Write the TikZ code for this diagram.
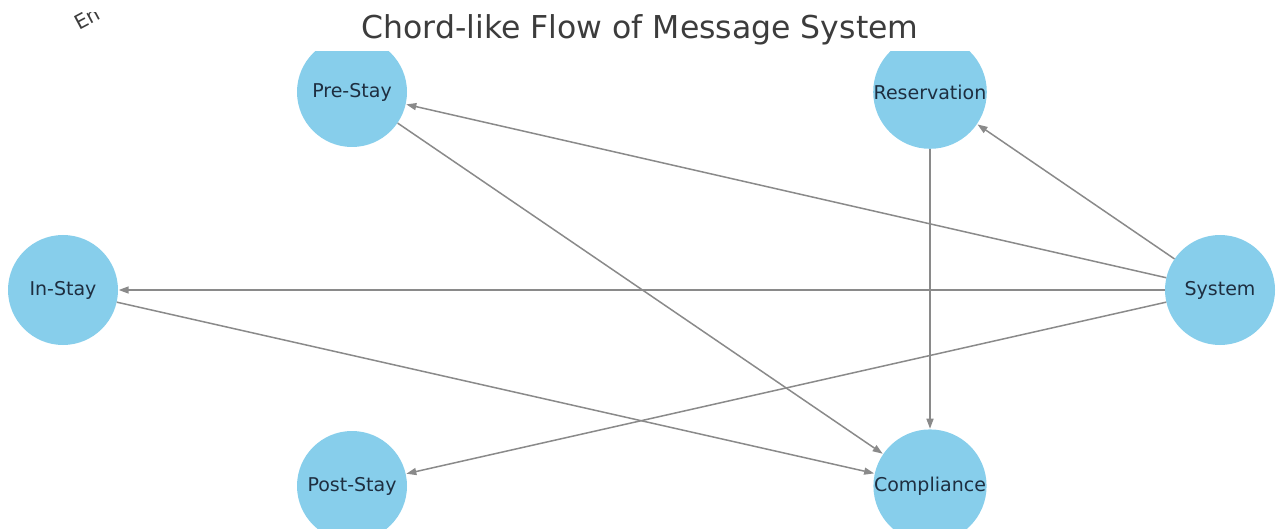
\documentclass[tikz,border=0pt]{standalone}
\usepackage{fontspec}
\setmainfont{DejaVu Sans}
\usetikzlibrary{arrows.meta}
\definecolor{nodefill}{HTML}{87CEEB}
\definecolor{edgegray}{HTML}{8A8A8A}
\definecolor{labelink}{HTML}{1E2E40}
\definecolor{titleink}{HTML}{3C3C3C}
\tikzset{
  stage/.style={circle, fill=nodefill, draw=none, minimum size=110pt, inner sep=0pt,
    text=labelink, font=\fontsize{19}{19}\selectfont},
  flow/.style={draw=edgegray, line width=1.5pt,
    -{Triangle[length=10pt,width=7pt]}, shorten >=0.5pt}
}
\begin{document}
\begin{tikzpicture}[x=1pt,y=-1pt]
\useasboundingbox (0,0) rectangle (1276,529);

% title
\node[anchor=base, text=titleink, font=\fontsize{31.5}{32}\selectfont] (title) at (640,39)
  {Chord-like Flow of Message System};

% partly hidden rotated caption in the upper left corner
\begin{scope}
  \clip (0,13) rectangle (300,40);
  \node[rotate=28, anchor=base west, text=titleink, font=\fontsize{20}{20}\selectfont]
    (corner) at (76,32) {En};
\end{scope}

% stage circles, cut by the plotting area
\begin{scope}
  \clip (0,52) rectangle (1276,529);
  \node[stage] (pre)  at (352,92)  {Pre-Stay};
  \node[stage] (res)  at (930,92)  {Reservation};
  \node[stage] (in)   at (63,290)  {In-Stay};
  \node[stage] (sys)  at (1220,290) {System};
  \node[stage] (post) at (352,486) {Post-Stay};
  \node[stage] (comp) at (930,486) {Compliance};
\end{scope}

% message flows
\draw[flow] (sys) -- (pre);
\draw[flow] (sys) -- (res);
\draw[flow] (sys) -- (in);
\draw[flow] (sys) -- (post);
\draw[flow] (pre) -- (comp);
\draw[flow] (in) -- (comp);
\draw[flow] (res) -- (comp);
\end{tikzpicture}
\end{document}
